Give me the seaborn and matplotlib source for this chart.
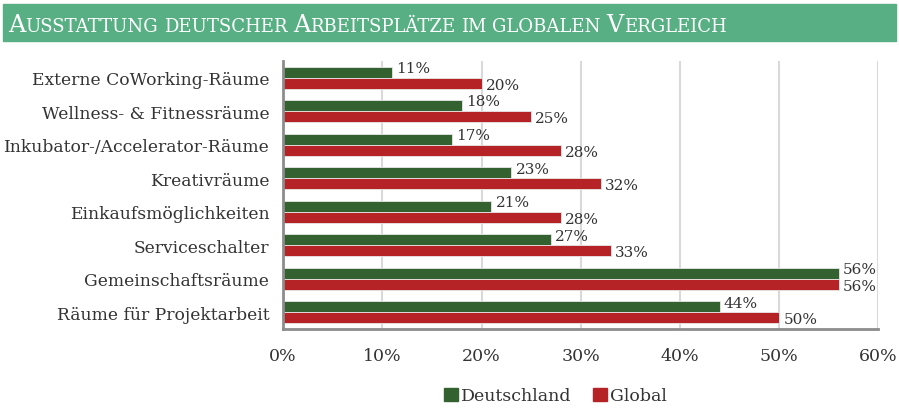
import pandas as pd
import numpy as np
import matplotlib.pyplot as plt
import seaborn as sns
from matplotlib.patches import Rectangle, Patch

# data
categories = ["Externe CoWorking-Räume", "Wellness- & Fitnessräume",
              "Inkubator-/Accelerator-Räume", "Kreativräume",
              "Einkaufsmöglichkeiten", "Serviceschalter",
              "Gemeinschaftsräume", "Räume für Projektarbeit"]
deutschland = [11, 18, 17, 23, 21, 27, 56, 44]
global_vals = [20, 25, 28, 32, 28, 33, 56, 50]
series = ["Deutschland", "Global"]
xticks = [0, 10, 20, 30, 40, 50, 60]
title = "Ausstattung deutscher Arbeitsplätze im globalen Vergleich"

green = "#33612f"
red = "#b52327"
banner = "#58af83"

df = pd.DataFrame({
    "Kategorie": categories * 2,
    "Wert": deutschland + global_vals,
    "Serie": [series[0]] * len(categories) + [series[1]] * len(categories),
})

sns.set_theme(style="white")
plt.rcParams['font.family'] = ['DejaVu Serif']

fig = plt.figure(figsize=(8.99, 4.10), dpi=100)
ax = fig.add_axes([0.315, 0.195, 0.662, 0.654])

sns.barplot(data=df, y="Kategorie", x="Wert", hue="Serie", order=categories,
            hue_order=series, palette=[green, red], saturation=1, orient="h",
            width=0.66, edgecolor="#e8e8e8", linewidth=0.6, ax=ax, legend=False)

ax.set_xlim(0, 60)
ax.set_xticks(xticks)
ax.set_xticklabels([f"{t}%" for t in xticks], fontsize=12.5, color="#333333")
ax.tick_params(axis="x", pad=13, length=0)
ax.tick_params(axis="y", length=0, labelsize=12.3, labelcolor="#333333", pad=10)
ax.set_xlabel("")
ax.set_ylabel("")
ax.grid(axis="x", color="#d9d9d9", linewidth=1.5)
ax.set_axisbelow(True)
for s in ["top", "right"]:
    ax.spines[s].set_visible(False)
for s in ["left", "bottom"]:
    ax.spines[s].set_color("#8c8c8c")
    ax.spines[s].set_linewidth(2)

# value labels, green slightly above, red slightly below
for cont, dy in zip(ax.containers, [3, -1]):
    for bar in cont:
        w = bar.get_width()
        yc = bar.get_y() + bar.get_height() / 2
        ax.annotate(f"{w:.0f}%", (w, yc), xytext=(3, dy), textcoords="offset points",
                    ha="left", va="center", fontsize=11, color="#333333")

# title banner
fig.patches.append(Rectangle((3 / 899, 368 / 410), 893 / 899, 37 / 410,
                             transform=fig.transFigure, color=banner, zorder=0))
renderer = fig.canvas.get_renderer()
x = 8 / 899
ybase = 378 / 410
for i, word in enumerate(title.split(" ")):
    pieces = [(word[0], 17.3), (word[1:].upper(), 13.1)] if word[0].isupper() else [(word.upper(), 13.1)]
    if i > 0:
        pieces = [(" ", 13.1)] + pieces
    for txt, fs in pieces:
        if not txt:
            continue
        t = fig.text(x, ybase, txt, fontsize=fs, color="white", va="baseline", ha="left")
        bb = t.get_window_extent(renderer)
        x += bb.width / fig.bbox.width

handles = [Patch(color=green), Patch(color=red)]
fig.legend(handles, series, loc="center", bbox_to_anchor=(0.618, 0.032), ncol=2,
           frameon=False, fontsize=12.5, handlelength=0.8, handleheight=0.8,
           handletextpad=0.2, columnspacing=1.2, labelcolor="#333333")

fig.savefig("out.png", dpi=100)
